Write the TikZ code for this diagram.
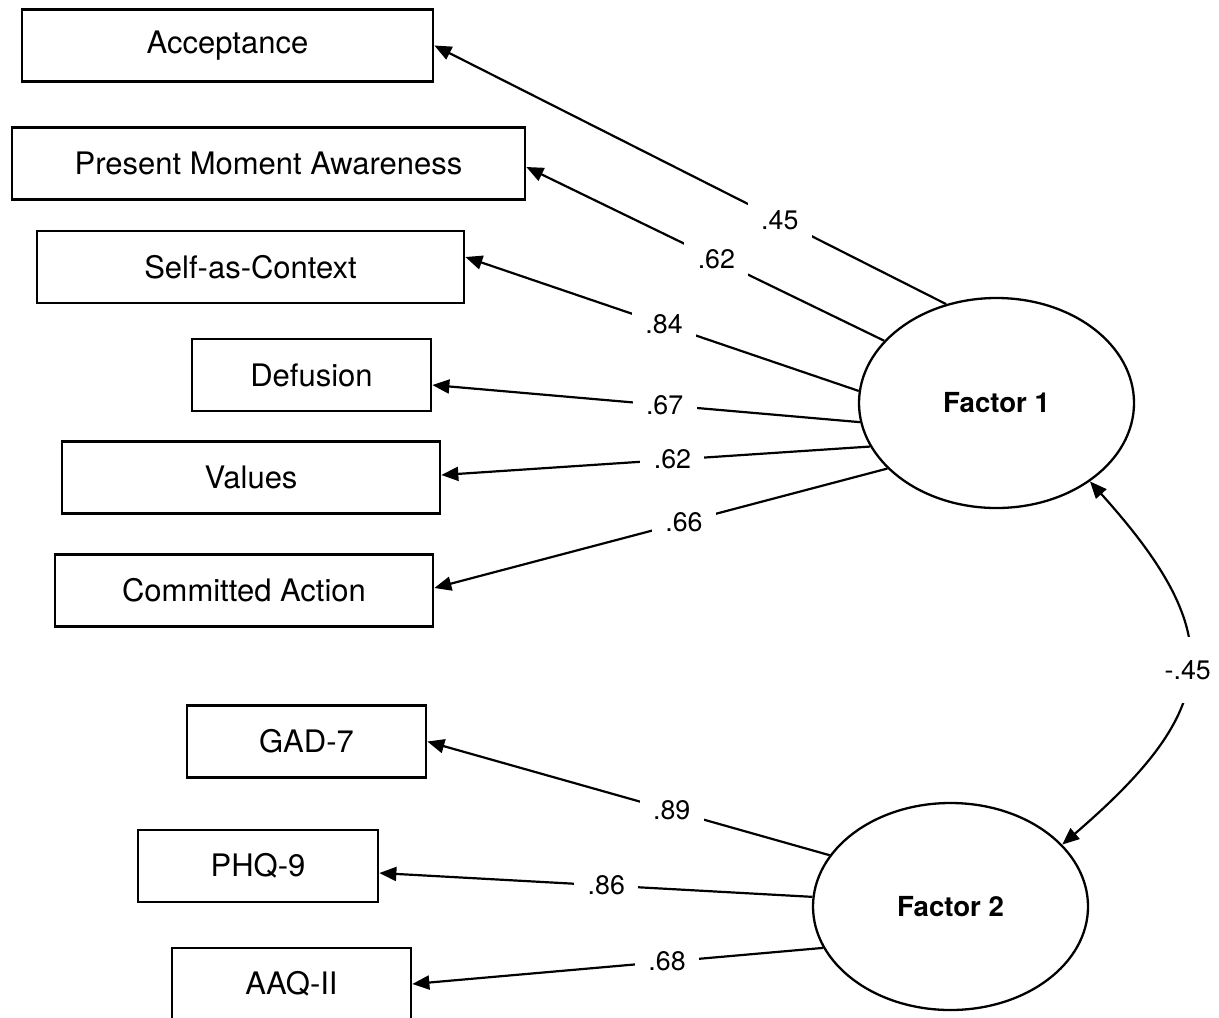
\documentclass[tikz,border=0pt]{standalone}
\usepackage{fontspec}
\setmainfont{TeX Gyre Heros}
\usetikzlibrary{arrows.meta,shapes.geometric}
\begin{document}
\begin{tikzpicture}[x=0.5pt,y=-0.5pt,
  box/.style={draw=black,line width=1.35pt,minimum height=36pt,inner sep=0pt,
    font=\fontsize{15.5}{18}\selectfont},
  factor/.style={ellipse,draw=black,line width=1.15pt,fill=white,inner sep=0pt,
    minimum width=137.5pt,font=\bfseries\fontsize{13.8}{16}\selectfont},
  conn/.style={line width=1.1pt,-{Triangle[length=8.5pt,width=7pt]}},
  corr/.style={line width=1.1pt,{Triangle[length=8.5pt,width=7pt]}-{Triangle[length=8.5pt,width=7pt]}},
  lbl/.style={fill=white,inner sep=0pt,minimum width=32pt,minimum height=33pt,
    font=\fontsize{13.4}{16}\selectfont}]
\useasboundingbox (0,0) rectangle (1219,1017);
\clip (0,0) rectangle (1219,1017);

% observed variables
\node[box,minimum width=205.5pt] (acc) at (227.5,45.5) {Acceptance};
\node[box,minimum width=256.5pt] (pma) at (268.5,163.5) {Present Moment Awareness};
\node[box,minimum width=213.5pt] (sac) at (250.5,267) {Self-as-Context};
\node[box,minimum width=119.5pt] (def) at (311.5,375) {Defusion};
\node[box,minimum width=189pt] (val) at (251,477.5) {Values};
\node[box,minimum width=189pt] (ca) at (244,590.5) {Committed Action};
\node[box,minimum width=119.5pt] (gad) at (306.5,741.5) {GAD-7};
\node[box,minimum width=120pt] (phq) at (258,866) {PHQ-9};
\node[box,minimum width=119.5pt] (aaq) at (291.5,984) {AAQ-II};

% latent factors
\node[factor,minimum height=105pt] (f1) at (996.5,403) {Factor 1};
\node[factor,minimum height=103.5pt] (f2) at (950.5,906.5) {Factor 2};

% loadings
\draw[conn] (f1.117.3) -- node[lbl,pos=0.325]{.45} (acc.east);
\draw[conn] (f1.151.4) -- node[lbl,pos=0.469]{.62} ([yshift=-1.75pt]pma.east);
\draw[conn] (f1.175.8) -- node[lbl,pos=0.495]{.84} ([yshift=5pt]sac.east);
\draw[conn] (f1.188.4) -- node[lbl,pos=0.457]{.67} ([yshift=-5pt]def.east);
\draw[conn] (f1.199.3) -- node[lbl,pos=0.461]{.62} ([yshift=1.25pt]val.east);
\draw[conn] (f1.211.7) -- node[lbl,pos=0.449]{.66} ([yshift=1.25pt]ca.east);
\draw[conn] (f2.157.6) -- node[lbl,pos=0.3925]{.89} (gad.east);
\draw[conn] (f2.176.9) -- node[lbl,pos=0.476]{.86} ([yshift=-3.5pt]phq.east);
\draw[conn] (f2.198.6) -- node[lbl,pos=0.38]{.68} (aaq.east);

% factor correlation
\draw[corr] (f1.-40.2) .. controls (1229,636) and (1221,708) .. node[lbl,pos=0.5]{-.45} (f2.29.4);
\end{tikzpicture}
\end{document}
